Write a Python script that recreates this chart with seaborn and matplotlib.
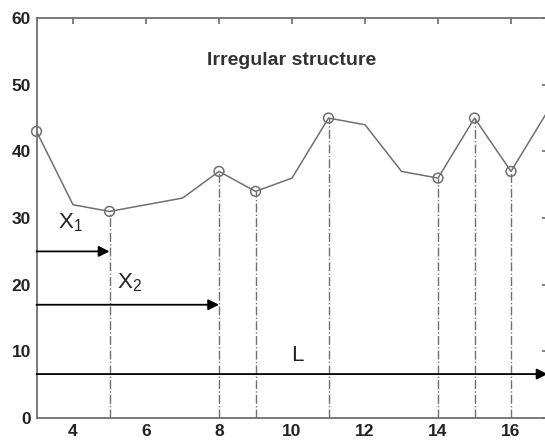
import matplotlib
matplotlib.use("Agg")
import matplotlib.pyplot as plt
import seaborn as sns
import pandas as pd

# data
positions = [3, 4, 5, 6, 7, 8, 9, 10, 11, 12, 13, 14, 15, 16, 17]
heights = [43, 32, 31, 32, 33, 37, 34, 36, 45, 44, 37, 36, 45, 37, 46]
marked = [3, 5, 8, 9, 11, 14, 15, 16]
drops = [5, 8, 9, 11, 14, 15, 16]
arrow_x1 = (3, 5, 25)
arrow_x2 = (3, 8, 17)
arrow_L = (3, 17, 6.6)
xticks = [4, 6, 8, 10, 12, 14, 16]
yticks = [0, 10, 20, 30, 40, 50, 60]

sns.set_theme(style="white")
plt.rcParams['font.family'] = ['Liberation Sans', 'DejaVu Sans']
plt.rcParams['mathtext.default'] = 'regular'

df = pd.DataFrame({'x': positions, 'y': heights})
pts = df[df['x'].isin(marked)]

fig = plt.figure(figsize=(5.45, 4.41), dpi=100)
ax = fig.add_axes([0.067, 0.052, 0.9376, 0.907])

grey = '#707070'
sns.lineplot(data=df, x='x', y='y', ax=ax, color=grey, linewidth=1.1)
sns.scatterplot(data=pts, x='x', y='y', ax=ax, marker='o', s=50,
                facecolor='none', edgecolor=grey, linewidth=1.1, zorder=3,
                clip_on=False)

for xv in drops:
    yv = df.loc[df['x'] == xv, 'y'].iloc[0]
    ax.vlines(xv, 0, yv, colors=grey, linestyles='-.', linewidth=1.0)

for x0, x1, yy in [arrow_x1, arrow_x2, arrow_L]:
    ax.annotate('', xy=(x1, yy), xytext=(x0, yy),
                arrowprops=dict(arrowstyle='-|>', color='black', lw=1.3,
                                mutation_scale=16, shrinkA=0, shrinkB=0))

ax.text(3.59, 28.5, 'X$_1$', fontsize=16, color='#222222', va='baseline')
ax.text(5.2, 19.5, 'X$_2$', fontsize=16, color='#222222', va='baseline')
ax.text(9.97, 8.55, 'L', fontsize=16, color='#222222', va='baseline')
ax.text(10.0, 53.7, 'Irregular structure', fontsize=14, fontweight='bold',
        color='#333333', ha='center', va='center')

ax.set_xlim(3, 17)
ax.set_ylim(0, 60)
ax.set_xticks(xticks)
ax.set_yticks(yticks)
ax.set_xlabel('')
ax.set_ylabel('')
ax.tick_params(direction='in', length=4, color=grey, top=True, right=True,
               labelsize=12.5, labelcolor='#222222', pad=4)
for lab in ax.get_xticklabels() + ax.get_yticklabels():
    lab.set_fontweight('bold')
for sp in ax.spines.values():
    sp.set_color(grey)
    sp.set_linewidth(1.3)

fig.savefig('out.png', dpi=100)
